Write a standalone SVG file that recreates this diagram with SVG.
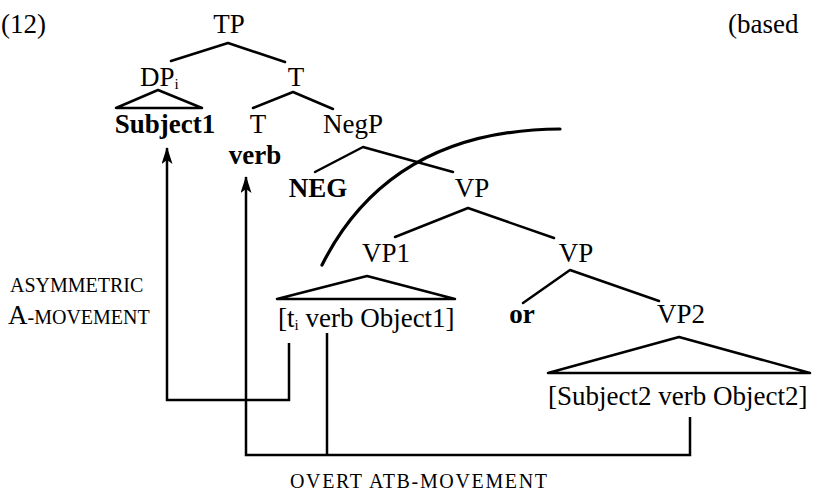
<svg xmlns="http://www.w3.org/2000/svg" width="817" height="491" viewBox="0 0 817 491">
<style>
text{font-family:"Liberation Serif","Times New Roman",serif;fill:#000}
.n{font-size:27px}
.b{font-size:27px;font-weight:bold}
.sc{font-size:20px}
.sub{font-size:15px}
.e{stroke:#000;stroke-width:2.5;fill:none;stroke-linecap:round;stroke-linejoin:round}
.m{stroke:#000;stroke-width:2.5;fill:none}
.arc{stroke:#000;stroke-width:3.2;fill:none;stroke-linecap:round}
</style>
<defs>
<marker id="ah" viewBox="0 0 17 11" refX="16" refY="5.5" markerWidth="17" markerHeight="11" markerUnits="userSpaceOnUse" orient="auto">
<path d="M17,5.5 L0,0 L4,5.5 L0,11 Z" fill="#000"/>
</marker>
</defs>
<rect width="817" height="491" fill="#fff"/>
<text class="n" x="1" y="33">(12)</text>
<text class="n" x="728" y="33">(based</text>
<g id="TP"><text class="n" x="229" y="33" text-anchor="middle">TP</text></g>
<g id="DP"><text class="n" x="140" y="86">DP<tspan class="sub" dy="3">i</tspan></text></g>
<g id="Tbar"><text class="n" x="296" y="86" text-anchor="middle">T</text></g>
<g id="Subject1"><path class="e" d="M158,90 L116,108 L202,108 Z"/><text class="b" x="165" y="133" text-anchor="middle">Subject1</text></g>
<g id="T"><text class="n" x="258" y="133" text-anchor="middle">T</text><text class="b" x="255" y="164" text-anchor="middle">verb</text></g>
<g id="NegP"><text class="n" x="353" y="133" text-anchor="middle">NegP</text></g>
<g id="NEG"><text class="b" x="318" y="197" text-anchor="middle">NEG</text></g>
<g id="VP0"><text class="n" x="472" y="197" text-anchor="middle">VP</text></g>
<g id="VP1"><text class="n" x="386" y="262" text-anchor="middle">VP1</text></g>
<g id="VPmid"><text class="n" x="576" y="262" text-anchor="middle">VP</text></g>
<g id="Conj1"><path class="e" d="M367,276 L277,299 L455,299 Z"/><text class="n" x="278" y="327">[t<tspan class="sub" dy="3">i</tspan><tspan dy="-3"> verb Object1]</tspan></text></g>
<g id="or"><text class="b" x="522" y="323" text-anchor="middle">or</text></g>
<g id="VP2"><text class="n" x="681" y="323" text-anchor="middle">VP2</text></g>
<g id="Conj2"><path class="e" d="M679,337 L548,373 L810,373 Z"/><text class="n" x="548" y="405">[Subject2 verb Object2]</text></g>
<g id="labels">
<text class="sc" x="10" y="292">ASYMMETRIC</text>
<text class="sc" x="8" y="324"><tspan font-size="27">A</tspan>-MOVEMENT</text>
<text class="sc" x="290" y="488" textLength="257" lengthAdjust="spacing">OVERT ATB-MOVEMENT</text>
</g>
<g id="connectors">
<path class="e" d="M171,61 L228,43 L285,62"/>
<path class="e" d="M253,108 L293,92 L333,109"/>
<path class="e" d="M315,172 L363,147 L453,172"/>
<path class="e" d="M395,237 L468,208 L554,238"/>
<path class="e" d="M523,303 L570,270 L659,301"/>
<path class="arc" d="M322,265 Q390,130 560,129"/>
<path class="m" d="M289,343 L289,400 L167,400 L167,148" marker-end="url(#ah)"/>
<path class="m" d="M690,417 L690,455 L246,455 L246,177" marker-end="url(#ah)"/>
<path class="m" d="M327,333 L327,455"/>
</g>
</svg>
